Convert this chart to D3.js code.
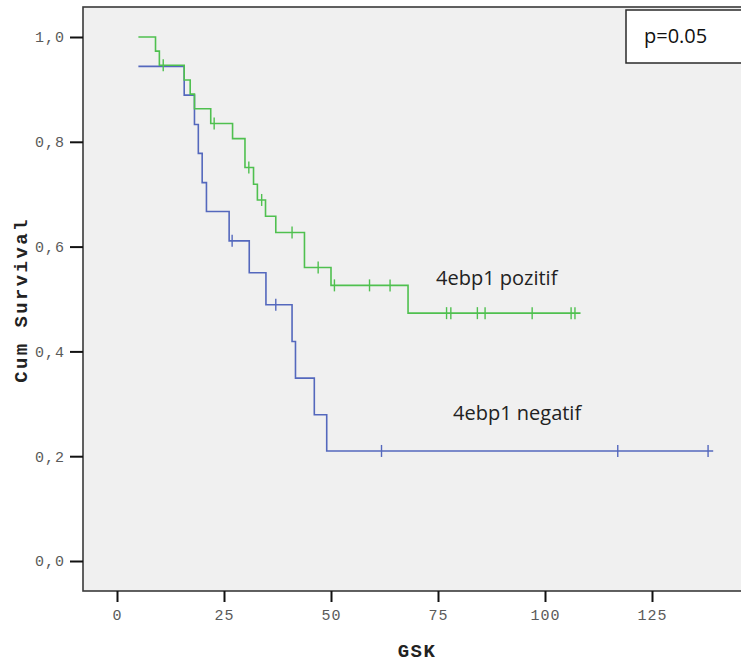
<!DOCTYPE html>
<html>
<head>
<meta charset="utf-8">
<script src="https://cdn.jsdelivr.net/npm/d3@7"></script>
<style>
  html, body { margin: 0; padding: 0; background: #ffffff; }
  svg { display: block; }
</style>
</head>
<body>
<svg id="chart" width="741" height="664"></svg>
<script>
// ---- Data ----
const xTicks = [0, 25, 50, 75, 100, 125];
const yTicks = [0, 0.2, 0.4, 0.6, 0.8, 1.0];

// 4ebp1 pozitif (green) step curve: event times and survival after each step
const pozTimes = [5, 9.0, 9.9, 15.7, 17.1, 18.1, 21.9, 27.0, 29.9, 31.9, 32.8, 34.7, 37.1, 43.8, 50.0, 68.0, 108.3];
const pozSurv  = [1.0, 0.973, 0.946, 0.918, 0.891, 0.863, 0.835, 0.806, 0.751, 0.719, 0.689, 0.658, 0.627, 0.560, 0.526, 0.473, 0.473];
const pozCensor = [10.8, 22.7, 30.8, 33.8, 40.9, 47.0, 50.8, 59.0, 63.8, 77.0, 78.0, 84.2, 86.0, 97.0, 106.1, 107.0];

// 4ebp1 negatif (blue)
const negTimes = [5, 15.7, 18.1, 19.0, 19.9, 20.9, 26.2, 30.9, 34.8, 40.9, 41.7, 46.1, 49.0, 139.3];
const negSurv  = [0.944, 0.889, 0.833, 0.778, 0.722, 0.667, 0.611, 0.550, 0.489, 0.419, 0.349, 0.279, 0.210, 0.210];
const negCensor = [26.9, 37.1, 61.8, 117.0, 138.1];

const seriesNames = ["4ebp1 pozitif", "4ebp1 negatif"];
const pText = "p=0.05";

// ---- Layout ----
const svg = d3.select("#chart");
const frame = { left: 83, top: 7, right: 760, bottom: 591 };
const x = d3.scaleLinear().domain([0, 125]).range([117, 652]);
const y = d3.scaleLinear().domain([0, 1]).range([561, 37]);

const green = "#4fc04f";
const blue = "#5468bd";
const mono = "'Liberation Mono', 'Courier New', monospace";
const sans = "'Open Sans', 'Noto Sans', sans-serif";

// plot background + frame
svg.append("rect")
  .attr("x", frame.left).attr("y", frame.top)
  .attr("width", frame.right - frame.left).attr("height", frame.bottom - frame.top)
  .attr("fill", "#f0f0f0").attr("stroke", "#3a3a3a").attr("stroke-width", 1.6);

// axes
const fmtY = v => d3.format(".1f")(v).replace(".", ",");
const gx = svg.append("g").attr("transform", `translate(0,${frame.bottom})`)
  .call(d3.axisBottom(x).tickValues(xTicks).tickSize(11).tickPadding(7).tickFormat(d3.format("d")));
const gy = svg.append("g").attr("transform", `translate(${frame.left},0)`)
  .call(d3.axisLeft(y).tickValues(yTicks).tickSize(13).tickPadding(5).tickFormat(fmtY));
[gx, gy].forEach(g => {
  g.select(".domain").remove();
  g.selectAll(".tick line").attr("stroke", "#111").attr("stroke-width", 2);
  g.selectAll(".tick text").attr("fill", "#5a5a5a")
    .style("font-family", mono).style("font-size", "15px").style("letter-spacing", "1px");
});

// axis titles
svg.append("text").text("GSK")
  .attr("x", 417).attr("y", 657).attr("text-anchor", "middle")
  .style("font-family", mono).style("font-weight", "bold").style("font-size", "19px")
  .style("letter-spacing", "1.5px").attr("fill", "#222");
svg.append("text").text("Cum Survival")
  .attr("transform", "translate(27,300) rotate(-90)").attr("text-anchor", "middle")
  .style("font-family", mono).style("font-weight", "bold").style("font-size", "19px")
  .style("letter-spacing", "2.4px").attr("fill", "#222");

// step curves
const line = d3.line().x(d => x(d[0])).y(d => y(d[1])).curve(d3.curveStepAfter);
function survAt(times, surv, t) {
  let s = surv[0];
  for (let i = 0; i < times.length; i++) { if (times[i] <= t) s = surv[i]; }
  return s;
}
function drawSeries(times, surv, censor, color) {
  svg.append("path").datum(times.map((t, i) => [t, surv[i]]))
    .attr("d", line).attr("fill", "none").attr("stroke", color).attr("stroke-width", 1.6);
  svg.append("g").selectAll("line").data(censor).join("line")
    .attr("x1", d => x(d)).attr("x2", d => x(d))
    .attr("y1", d => y(survAt(times, surv, d)) - 6)
    .attr("y2", d => y(survAt(times, surv, d)) + 6)
    .attr("stroke", color).attr("stroke-width", 1.4);
}
drawSeries(negTimes, negSurv, negCensor, blue);
drawSeries(pozTimes, pozSurv, pozCensor, green);

// labels
svg.append("text").text(seriesNames[0]).attr("x", 436).attr("y", 285)
  .style("font-family", sans).style("font-size", "20px").attr("fill", "#222");
svg.append("text").text(seriesNames[1]).attr("x", 453).attr("y", 420)
  .style("font-family", sans).style("font-size", "20px").attr("fill", "#222");

// p-value box
svg.append("rect").attr("x", 626).attr("y", 10).attr("width", 140).attr("height", 53)
  .attr("fill", "#ffffff").attr("stroke", "#2a2a2a").attr("stroke-width", 1.5);
svg.append("text").text(pText).attr("x", 644).attr("y", 43)
  .style("font-family", sans).style("font-size", "20px").attr("fill", "#111");
</script>
</body>
</html>
